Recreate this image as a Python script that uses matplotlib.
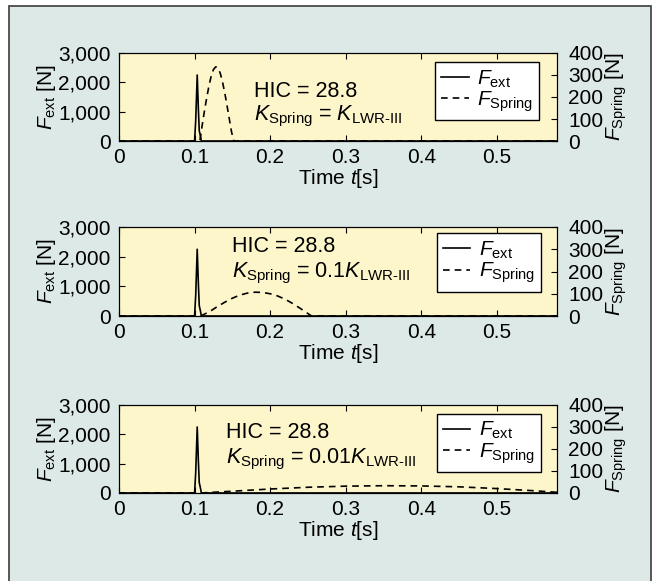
import matplotlib
matplotlib.use('Agg')
import matplotlib.pyplot as plt
from matplotlib.patches import Rectangle
from matplotlib.lines import Line2D

plt.rcParams['font.family'] = ['Liberation Sans', 'DejaVu Sans']
plt.rcParams['mathtext.fontset'] = 'custom'
plt.rcParams['mathtext.rm'] = 'Liberation Sans'
plt.rcParams['mathtext.it'] = 'Liberation Sans:italic'
plt.rcParams['mathtext.bf'] = 'Liberation Sans:bold'

# external force spike (same in all three panels) [s], [N]
t_ext = [0.0, 0.1000, 0.1015, 0.1035, 0.1050, 0.1062, 0.1075, 0.1090, 0.58]
f_ext = [0, 0, 700, 2250, 1100, 350, 200, 0, 0]

# spring force, K_Spring = K_LWR-III
t_spr1 = [0.0, 0.107, 0.110, 0.113, 0.116, 0.119, 0.122, 0.125, 0.128, 0.131,
          0.134, 0.137, 0.140, 0.143, 0.146, 0.149, 0.152, 0.58]
f_spr1 = [0, 0, 70, 135, 195, 250, 295, 325, 337, 332, 308, 268, 218, 160, 100, 40, 0, 0]

# spring force, K_Spring = 0.1 K_LWR-III
t_spr2 = [0.0, 0.108, 0.120, 0.130, 0.140, 0.150, 0.160, 0.170, 0.180, 0.190,
          0.200, 0.210, 0.220, 0.230, 0.240, 0.250, 0.255, 0.58]
f_spr2 = [0, 0, 20, 42, 62, 80, 94, 103, 107, 106, 100, 90, 75, 56, 34, 11, 0, 0]

# spring force, K_Spring = 0.01 K_LWR-III
t_spr3 = [0.0, 0.108, 0.150, 0.200, 0.250, 0.300, 0.350, 0.400, 0.450, 0.500, 0.550, 0.580]
f_spr3 = [0, 0, 8, 18, 26, 31, 33, 32, 28, 20, 10, 3]

k_labels = [r'$K_\mathrm{Spring}$ = $K_\mathrm{LWR\text{-}III}$',
            r'$K_\mathrm{Spring}$ = 0.1$K_\mathrm{LWR\text{-}III}$',
            r'$K_\mathrm{Spring}$ = 0.01$K_\mathrm{LWR\text{-}III}$']
hic = [28.8, 28.8, 28.8]
spring_t = [t_spr1, t_spr2, t_spr3]
spring_f = [f_spr1, f_spr2, f_spr3]

x_ticks = [0, 0.1, 0.2, 0.3, 0.4, 0.5]
left_ticks = [0, 1000, 2000, 3000]
right_ticks = [0, 100, 200, 300, 400]

bg = '#dde9e6'
ax_bg = '#fdf6cb'
fs = 15
fs_txt = 15.5

fig = plt.figure(figsize=(6.54, 5.81), dpi=100)
fig.patch.set_facecolor('white')
# the light panel with its frame, behind everything
back = fig.add_axes([0, 0, 1, 1], zorder=-10)
back.set_axis_off()
back.set_xlim(0, 654)
back.set_ylim(581, 0)
back.add_patch(Rectangle((9, 6), 642, 590, facecolor=bg, edgecolor='#4a4a4a', linewidth=1.3))

boxes = [[0.182, 0.7573, 0.670, 0.1515],
         [0.182, 0.4561, 0.670, 0.1532],
         [0.182, 0.1515, 0.670, 0.1515]]
# (x, baseline of HIC, baseline of K line) in axes fraction
text_pos = [(0.308, 0.50, 0.235), (0.257, 0.716, 0.43), (0.245, 0.63, 0.34)]
leg_anchor = [(0.959, 0.898), (0.963, 0.929), (0.963, 0.898)]

for i in range(3):
    ax = fig.add_axes(boxes[i])
    ax.set_facecolor(ax_bg)
    ax.plot(t_ext, f_ext, color='black', lw=1.2)
    ax.set_xlim(0, 0.58)
    ax.set_ylim(0, 3000)
    ax.set_xticks(x_ticks)
    ax.set_xticklabels(['0', '0.1', '0.2', '0.3', '0.4', '0.5'])
    ax.set_yticks(left_ticks)
    ax.set_yticklabels(['0', '1,000', '2,000', '3,000'])
    ax.tick_params(direction='in', top=True, length=4, labelsize=fs)
    ax.tick_params(axis='y', pad=6)
    ax.tick_params(axis='x', pad=5)
    ax.set_ylabel(r'$F_\mathrm{ext}$ [N]', fontsize=fs, labelpad=0)
    ax.set_xlabel(r'Time $t$[s]', fontsize=fs, labelpad=0)

    ax2 = ax.twinx()
    ax2.plot(spring_t[i], spring_f[i], color='black', lw=1.2, ls=(0, (4, 3)))
    ax2.set_ylim(0, 400)
    ax2.set_yticks(right_ticks)
    ax2.tick_params(direction='in', length=4, labelsize=fs, pad=8)
    ax2.set_ylabel(r'$F_\mathrm{Spring}$ [N]', fontsize=fs, labelpad=0)

    tx, ty, ky = text_pos[i]
    ax.text(tx, ty, 'HIC = %.1f' % hic[i], transform=ax.transAxes, fontsize=fs_txt,
            va='baseline')
    ax.text(tx, ky, k_labels[i], transform=ax.transAxes, fontsize=fs_txt, va='baseline')

    handles = [Line2D([], [], color='black', lw=1.2),
               Line2D([], [], color='black', lw=1.2, ls=(0, (4, 3)))]
    leg = ax2.legend(handles, [r'$F_\mathrm{ext}$', r'$F_\mathrm{Spring}$'],
                     loc='upper right', bbox_to_anchor=leg_anchor[i], borderaxespad=0,
                     fontsize=fs, handlelength=1.3, handletextpad=0.4,
                     labelspacing=0.0, borderpad=0.3, fancybox=False, framealpha=1)
    leg.get_frame().set_edgecolor('black')
    leg.get_frame().set_linewidth(1.0)

fig.savefig('out.png', dpi=100)
